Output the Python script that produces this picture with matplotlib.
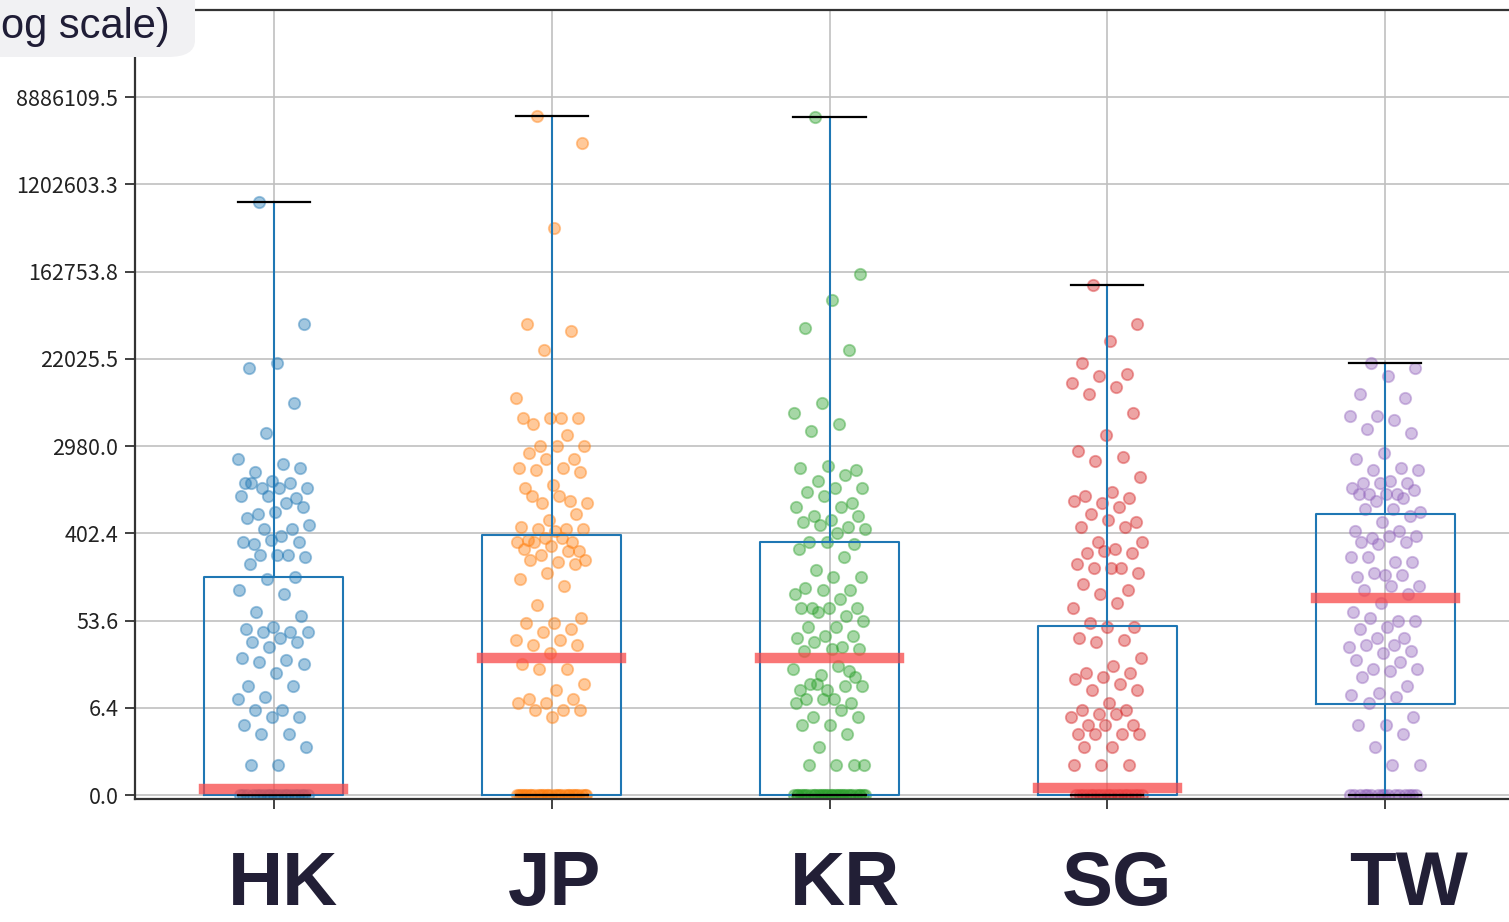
import numpy as np
import matplotlib
matplotlib.use("Agg")
import matplotlib.pyplot as plt
from matplotlib.patches import FancyBboxPatch
from matplotlib.transforms import blended_transform_factory, offset_copy

# ---------------- data (values are log1p of the raw amount) ----------------
regions = ["HK", "JP", "KR", "SG", "TW"]
tick_positions = [0, 2, 4, 6, 8, 10, 12, 14, 16]
tick_labels = ["0.0", "6.4", "53.6", "402.4", "2980.0", "22025.5",
               "162753.8", "1202603.3", "8886109.5"]

hk_values = [13.6, 10.8, 9.9, 9.8, 9.0, 8.3, 7.7, 7.6, 7.4, 7.5, 7.2, 7.15, 7.15,
             7.05, 7.05, 7.05, 7.15, 6.8, 6.85, 6.85, 6.7, 6.45, 6.6, 6.5, 6.35,
             6.1, 6.1, 6.2, 5.95, 5.75, 5.8, 5.85, 5.8, 5.5, 5.5, 5.45, 5.5, 5.3,
             5.0, 4.95, 4.7, 4.6, 4.2, 4.1, 3.85, 3.8, 3.75, 3.75, 3.75, 3.6,
             3.5, 3.5, 3.4, 3.15, 3.1, 3.05, 3.0, 2.8, 2.5, 2.5, 2.25, 2.2, 1.95,
             1.95, 1.8, 1.8, 1.6, 1.4, 1.4, 1.1, 0.7, 0.7] + [0.0] * 20

jp_values = [15.57, 14.95, 13.0, 10.8, 10.65, 10.2, 9.1, 8.65, 8.5, 8.65, 8.65,
             8.65, 8.25, 8.0, 8.0, 8.0, 7.85, 7.7, 7.7, 7.5, 7.5, 7.45, 7.4, 7.1,
             7.05, 6.75, 6.7, 6.7, 6.85, 6.85, 6.45, 6.3, 6.15, 6.1, 6.1, 6.1,
             6.05, 5.85, 5.8, 5.9, 5.8, 5.9, 5.8, 5.6, 5.7, 5.65, 5.6, 5.5, 5.4,
             5.35, 5.4, 5.3, 5.1, 4.95, 4.8, 4.35, 4.05, 3.95, 3.95, 3.8, 3.75,
             3.55, 3.55, 3.45, 3.45, 3.25, 3.0, 2.9, 2.9, 2.55, 2.4, 2.2, 2.2,
             2.1, 2.1, 1.95, 1.95, 1.95, 1.8] + [0.0] * 30

kr_values = [15.55, 11.95, 11.35, 10.7, 10.2, 9.0, 8.75, 8.5, 8.35, 7.45, 7.55,
             7.5, 7.35, 7.2, 7.05, 7.05, 6.95, 6.7, 6.85, 6.6, 6.6, 6.4, 6.4,
             6.3, 6.25, 6.15, 6.2, 6.1, 6.0, 5.8, 5.75, 5.8, 5.65, 5.45, 5.15,
             5.0, 5.0, 4.75, 4.7, 4.7, 4.6, 4.5, 4.3, 4.3, 4.3, 4.3, 4.1, 4.2,
             4.0, 3.85, 3.85, 3.65, 3.65, 3.6, 3.4, 3.5, 3.35, 3.35, 3.3, 2.85,
             2.75, 2.9, 2.95, 2.55, 2.7, 2.4, 2.4, 2.5, 2.55, 2.5, 2.2, 2.2, 2.1,
             2.2, 2.1, 1.95, 1.8, 1.8, 1.6, 1.6, 1.4, 1.1, 0.7, 0.7, 0.7,
             0.7] + [0.0] * 32

sg_values = [11.7, 10.8, 10.4, 9.9, 9.65, 9.6, 9.45, 9.35, 9.2, 8.75, 8.25, 7.9,
             7.75, 7.65, 7.3, 6.95, 6.85, 6.8, 6.7, 6.75, 6.6, 6.45, 6.25, 6.3,
             6.15, 6.15, 5.8, 5.8, 5.65, 5.55, 5.55, 5.6, 5.3, 5.2, 5.2, 5.1,
             5.2, 4.85, 4.7, 4.6, 4.3, 4.4, 3.95, 3.85, 3.85, 3.6, 3.55, 3.5,
             3.15, 2.95, 2.8, 2.8, 2.7, 2.65, 2.55, 2.4, 2.4, 2.1, 1.95, 1.95,
             1.85, 1.8, 1.85, 1.6, 1.6, 1.6, 1.4, 1.4, 1.4, 1.4, 1.1, 1.1, 0.7,
             0.7, 0.7] + [0.0] * 20

tw_values = [9.9, 9.8, 9.6, 9.2, 9.1, 8.7, 8.7, 8.6, 8.4, 8.3, 7.85, 7.7, 7.5,
             7.45, 7.45, 7.2, 7.15, 7.15, 7.15, 7.05, 6.9, 6.9, 7.0, 6.9, 6.9,
             6.8, 6.75, 6.5, 6.55, 6.55, 6.4, 6.25, 6.05, 6.05, 5.9, 5.95, 5.95,
             5.8, 5.8, 5.75, 5.45, 5.35, 5.45, 5.35, 5.05, 5.0, 5.05, 5.1, 4.8,
             4.8, 4.7, 4.6, 4.4, 4.2, 4.0, 4.05, 4.0, 3.85, 3.8, 3.6, 3.6, 3.4,
             3.45, 3.45, 3.3, 3.25, 3.1, 3.05, 2.9, 2.9, 2.85, 2.7, 2.5, 2.35,
             2.3, 2.25, 2.1, 1.8, 1.6, 1.6, 1.4, 1.1, 0.7, 0.7] + [0.0] * 16

group_values = [hk_values, jp_values, kr_values, sg_values, tw_values]

# box-plot statistics (log1p units)
box_whislo = [0.0, 0.0, 0.0, 0.0, 0.0]
box_q1 = [0.0, 0.0, 0.0, 0.0, 2.09]
box_median = [0.15, 3.14, 3.14, 0.16, 4.52]
box_q3 = [5.0, 5.96, 5.8, 3.87, 6.44]
box_whishi = [13.6, 15.57, 15.55, 11.7, 9.9]

title_text = "og scale)"

# ---------------- figure / layout ----------------
W, H, DPI = 1509, 922, 100
fig = plt.figure(figsize=(W / DPI, H / DPI), dpi=DPI)
ax_left, ax_right = 135 / W, 1524 / W
ax_bottom, ax_top = 1 - 799 / H, 1 - 10 / H
ax = fig.add_axes([ax_left, ax_bottom, ax_right - ax_left, ax_top - ax_bottom])

colors = ["#1f77b4", "#ff7f0e", "#2ca02c", "#d62728", "#9467bd"]
positions = np.arange(1, len(regions) + 1)

ax.grid(True, color="#c0c0c0", linewidth=1.2, zorder=0)
ax.set_axisbelow(True)

# jittered strip points (deterministic low-discrepancy jitter)
for pos, vals, c in zip(positions, group_values, colors):
    n = len(vals)
    jit = ((np.arange(n) * 0.6180339887 + 0.3) % 1.0 - 0.5) * 0.26
    ax.plot(pos + jit, vals, "o", ms=8.2, mfc=c, mec=c, mew=1.3,
            alpha=0.42, linestyle="none", zorder=2)

stats = []
for i, r in enumerate(regions):
    stats.append(dict(label=r, whislo=box_whislo[i], q1=box_q1[i],
                      med=box_median[i], q3=box_q3[i], whishi=box_whishi[i],
                      fliers=[]))

ax.bxp(stats, positions=positions, widths=0.5, showfliers=False,
       boxprops=dict(color="#1f77b4", linewidth=1.5),
       whiskerprops=dict(color="#1f77b4", linewidth=1.5),
       capprops=dict(color="black", linewidth=1.6),
       medianprops=dict(color="#f74848", linewidth=7.5, alpha=0.75,
                        solid_capstyle="projecting"),
       capwidths=0.26, manage_ticks=False, zorder=3)

ax.set_xlim(0.5, 5.5)
ax.set_ylim(-0.09, 18.0)
ax.set_yticks(tick_positions, tick_labels)
ax.set_xticks(positions, [""] * len(regions))

for s in ax.spines.values():
    s.set_color("#333333")
    s.set_linewidth(1.6)
ax.tick_params(axis="both", length=7, width=1.3, color="#333333")
ax.tick_params(axis="y", labelsize=15.5, labelcolor="#222222", pad=5)
for lab in ax.get_yticklabels():
    lab.set_family(["Noto Sans CJK SC", "DejaVu Sans"])

# big region labels below the axis
label_nudge_px = [9, 3, 15, 10, 23]
trans = blended_transform_factory(ax.transData, fig.transFigure)
for pos, r, nud in zip(positions, regions, label_nudge_px):
    t = offset_copy(trans, fig=fig, x=nud, y=0, units="dots")
    fig.text(pos, 1 / H, r, transform=t, ha="center", va="bottom",
             fontsize=55, fontweight="bold", color="#221f36",
             family="Liberation Sans")

# title pill at the top-left
box = FancyBboxPatch((-40 / W, 1 - 57 / H), (195 + 40) / W, 80 / H,
                     boxstyle="round,pad=0,rounding_size=0.018",
                     transform=fig.transFigure, facecolor="#f1f1f3",
                     edgecolor="none", zorder=10)
fig.patches.append(box)
fig.text(1 / W, 1 - 38 / H, title_text, ha="left", va="baseline",
         fontsize=30, color="#1f1d36", family="Liberation Sans", zorder=11)

fig.savefig("out.png", dpi=DPI)
